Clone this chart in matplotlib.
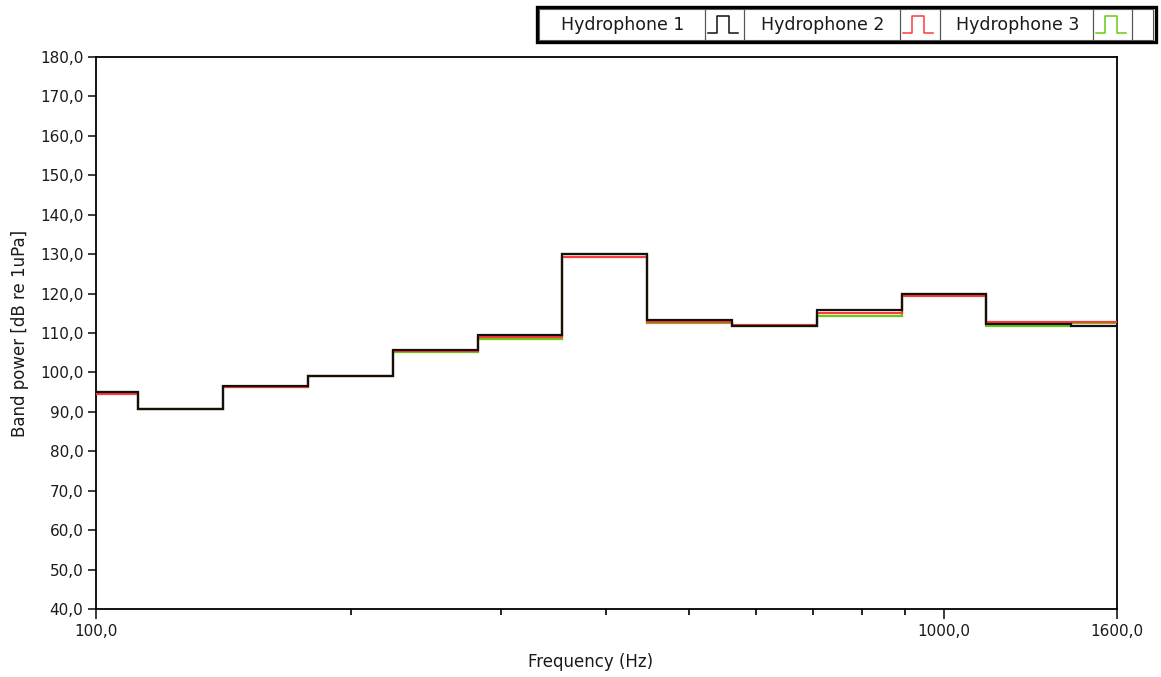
import numpy as np
import matplotlib
matplotlib.use("Agg")
import matplotlib.pyplot as plt
from matplotlib.ticker import FixedLocator, FuncFormatter, NullFormatter
from matplotlib.lines import Line2D
from matplotlib.patches import Rectangle

# Third-octave band centre frequencies (Hz), base-10 exact values
band_centres = [100.0, 125.9, 158.5, 199.5, 251.2, 316.2, 398.1, 501.2, 631.0, 794.3, 1000.0, 1258.9, 1584.9]

# Band power [dB re 1uPa] per hydrophone
hydrophone_1 = [95.0, 90.7, 96.6, 99.2, 105.7, 109.5, 130.0, 113.3, 111.8, 115.8, 119.9, 112.4, 111.8]
hydrophone_2 = [94.5, 90.7, 96.4, 99.2, 105.4, 108.9, 129.2, 112.9, 112.1, 115.1, 119.5, 112.7, 112.8]
hydrophone_3 = [95.0, 90.7, 96.2, 99.2, 105.2, 108.5, 130.0, 112.5, 111.8, 114.2, 119.8, 111.8, 112.5]

series_names = ["Hydrophone 1", "Hydrophone 2", "Hydrophone 3"]
series_colors = ["#111111", "#ff3a3a", "#66cc11"]

y_ticks = list(range(40, 181, 10))
x_major = [100, 1000, 1600]
x_minor = [200, 300, 400, 500, 600, 700, 800, 900]

W, H = 1161, 677
fig = plt.figure(figsize=(W / 100, H / 100), dpi=100)
ax = fig.add_axes([96 / W, 1 - 609 / H, (1117 - 96) / W, (609 - 57) / H])

centres = np.array(band_centres, dtype=float)
half = 10 ** (1 / 20)
edges = np.concatenate([centres / half, [centres[-1] * half]])

for vals, col, z in zip([hydrophone_3, hydrophone_2, hydrophone_1],
                        [series_colors[2], series_colors[1], series_colors[0]],
                        [2, 3, 4]):
    ax.stairs(vals, edges, color=col, linewidth=1.6, baseline=None, zorder=z)

ax.set_xscale("log")
ax.set_xlim(100, 1600)
ax.set_ylim(40, 180)

text_col = "#1a1a1a"
comma = FuncFormatter(lambda v, p: f"{v:.1f}".replace(".", ","))
ax.yaxis.set_major_locator(FixedLocator(y_ticks))
ax.yaxis.set_major_formatter(comma)
ax.xaxis.set_major_locator(FixedLocator(x_major))
ax.xaxis.set_major_formatter(comma)
ax.xaxis.set_minor_locator(FixedLocator(x_minor))
ax.xaxis.set_minor_formatter(NullFormatter())

ax.tick_params(axis="y", which="major", direction="out", length=6, width=1.2,
               labelsize=11, colors=text_col, pad=3)
ax.tick_params(axis="x", which="major", direction="out", length=7, width=1.2,
               labelsize=11, colors=text_col, pad=4)
ax.tick_params(axis="x", which="minor", direction="out", length=4, width=1.2)

for s in ax.spines.values():
    s.set_linewidth(1.3)
    s.set_color("black")

ax.set_xlabel("Frequency (Hz)", fontsize=12, color=text_col)
ax.set_ylabel("Band power [dB re 1uPa]", fontsize=12, color=text_col)
ax.xaxis.set_label_coords((591 - 96) / (1117 - 96), -(662 - 609) / (609 - 57))
ax.yaxis.set_label_coords(-(96 - 20) / (1117 - 96), 0.5)
ax.xaxis.label.set_va("center")
ax.yaxis.label.set_va("center")

# Legend (custom box row)
def fx(px):
    return px / W

def fy(py):
    return 1 - py / H

top, bot = 7, 42
fig.patches.append(Rectangle((fx(537), fy(bot)), fx(1156) - fx(537), fy(top) - fy(bot),
                             transform=fig.transFigure, fill=True, facecolor="white",
                             edgecolor="black", linewidth=2.4, zorder=5))
cells = [(539, 705), (705, 744), (744, 900), (900, 940), (940, 1093), (1093, 1132), (1132, 1153)]
for (a, b) in cells:
    fig.patches.append(Rectangle((fx(a), fy(bot - 2)), fx(b) - fx(a), fy(top + 2) - fy(bot - 2),
                                 transform=fig.transFigure, fill=False,
                                 edgecolor="#555555", linewidth=0.8, zorder=6))
for i, name in enumerate(series_names):
    ta, tb = cells[2 * i]
    fig.text(fx((ta + tb) / 2 + 1), fy(25), name, ha="center", va="center",
             fontsize=12.5, color=text_col, zorder=7)
    ia, ib = cells[2 * i + 1]
    xs = [ia + 3, ia + 12, ia + 12, ia + 24, ia + 24, ia + 33]
    ys = [33, 33, 16, 16, 33, 33]
    fig.lines.append(Line2D([fx(v) for v in xs], [fy(v) for v in ys], transform=fig.transFigure,
                            color=series_colors[i], linewidth=1.1, zorder=7))

fig.savefig("out.png", dpi=100)
